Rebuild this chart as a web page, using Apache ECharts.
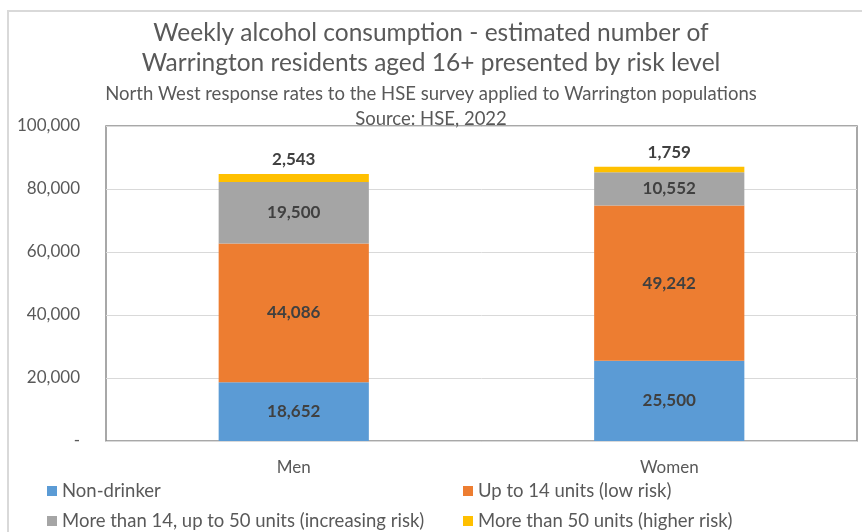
<!DOCTYPE html>
<html>
<head>
<meta charset="utf-8">
<script src="https://cdn.jsdelivr.net/npm/echarts@6/dist/echarts.min.js"></script>
<style>
  html, body { margin: 0; padding: 0; background: #fff; }
  #frame { position: absolute; left: 7px; top: 10px; width: 900px; height: 600px; border: 2px solid #d9d9d9; box-sizing: border-box; }
  #main { position: absolute; left: 0; top: 0; width: 862px; height: 532px; }
</style>
</head>
<body>
<div id="frame"></div>
<div id="main"></div>
<script>
// categories and series values
let categories = ['Men', 'Women'];
let nonDrinker = [18652, 25500];
let lowRisk = [44086, 49242];
let increasingRisk = [19500, 10552];
let higherRisk = [2543, 1759];
let seriesNames = [
    'Non-drinker',
    'Up to 14 units (low risk)',
    'More than 14, up to 50 units (increasing risk)',
    'More than 50 units (higher risk)'
];
let colors = ['#5b9bd5', '#ed7d31', '#a5a5a5', '#ffc000'];

let font = 'Lato, "Open Sans", sans-serif';
let fmt = v => v.toLocaleString('en-GB');

function makeSeries(name, data, color, labelPos) {
    return {
        name: name, type: 'bar', stack: 'total', data: data,
        barWidth: '40%',
        itemStyle: {color: color},
        label: {
            show: true, position: labelPos,
            color: '#404040', fontWeight: 'bold', fontSize: 17, fontFamily: font,
            formatter: p => fmt(p.value), distance: 6
        }
    };
}

function makeLegend(left, names) {
    return {
        orient: 'vertical', left: left, top: 481, itemGap: 10, padding: 0,
        itemWidth: 10, itemHeight: 10, icon: 'rect',
        textStyle: {fontSize: 18.5, lineHeight: 20, color: '#595959', fontFamily: font},
        data: names
    };
}

let option = {
    animation: false,
    textStyle: {fontFamily: font},
    title: [{
        text: 'Weekly alcohol consumption - estimated number of\nWarrington residents aged 16+ presented by risk level',
        left: 'center', top: 13,
        textStyle: {fontSize: 24.5, fontWeight: 'normal', color: '#595959', lineHeight: 30, fontFamily: font}
    }, {
        text: 'North West response rates to the HSE survey applied to Warrington populations\nSource: HSE, 2022',
        left: 'center', top: 77,
        textStyle: {fontSize: 18.5, fontWeight: 'normal', color: '#595959', lineHeight: 25, fontFamily: font}
    }],
    grid: {left: 106, right: 5, top: 126, bottom: 91, show: true, borderColor: '#8c8c8c', borderWidth: 1.5},
    legend: [
        makeLegend(47, [seriesNames[0], seriesNames[2]]),
        makeLegend(463, [seriesNames[1], seriesNames[3]])
    ],
    xAxis: {
        type: 'category', data: categories,
        axisLine: {lineStyle: {color: '#d9d9d9'}},
        axisTick: {show: false},
        axisLabel: {fontSize: 17, color: '#595959', margin: 18, fontFamily: font}
    },
    yAxis: {
        type: 'value', min: 0, max: 100000, interval: 20000,
        axisLine: {show: false}, axisTick: {show: false},
        splitLine: {lineStyle: {color: '#d9d9d9'}},
        axisLabel: {
            fontSize: 17, color: '#595959', margin: 26, fontFamily: font,
            formatter: v => v === 0 ? '-' : fmt(v)
        }
    },
    series: [
        makeSeries(seriesNames[0], nonDrinker, colors[0], 'inside'),
        makeSeries(seriesNames[1], lowRisk, colors[1], 'inside'),
        makeSeries(seriesNames[2], increasingRisk, colors[2], 'inside'),
        makeSeries(seriesNames[3], higherRisk, colors[3], 'top')
    ]
};

let myChart = echarts.init(document.getElementById('main'));
myChart.setOption(option);
</script>
</body>
</html>
